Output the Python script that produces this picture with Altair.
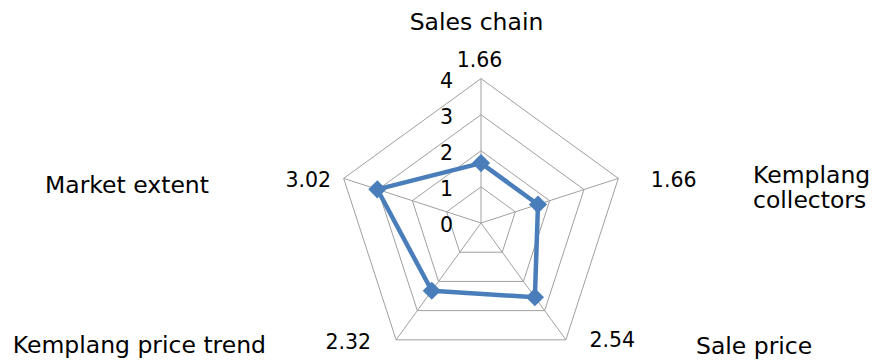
import altair as alt
import numpy as np
import pandas as pd

# ---------------- data ----------------
categories = ["Sales chain", "Kemplang collectors", "Sale price",
              "Kemplang price trend", "Market extent"]
category_text = ["Sales chain", "Kemplang\ncollectors", "Sale price",
                 "Kemplang price trend", "Market extent"]
values = [1.66, 1.66, 2.54, 2.32, 3.02]
value_labels = ["1.66", "1.66", "2.54", "2.32", "3.02"]
axis_ticks = [0, 1, 2, 3, 4]
axis_max = 4

# ---------------- layout / style ----------------
W, H = 876, 361
CX, CY, PX = 481, 223, 36.1          # centre in pixels, pixels per unit
x_dom = [-CX / PX, (W - CX) / PX]
y_dom = [-(H - CY) / PX, CY / PX]
GRID = "#a0a0a0"
BLUE = "#4a7ebb"
FONT = "DejaVu Sans"
NUM_SIZE = 20.5
CAT_SIZE = 23.5

# (align, dx, dy) relative to the outer vertex of each spoke
value_layout = [("center", -1.5, -11.6), ("left", 32.5, 8.3), ("left", 23.5, 7.5),
                ("right", -25, 9.5), ("right", -12.5, 8.9)]
cat_layout = [("center", -4.5, -48.6), ("left", 134.7, 4.9), ("left", 130.1, 14.5),
              ("left", -383.4, 13.5), ("left", -298.7, 14.9)]

n = len(categories)
ang = [np.pi / 2 - 2 * np.pi * i / n for i in range(n)]


def pol(r, i):
    return r * np.cos(ang[i]), r * np.sin(ang[i])


grid_rows = []
for lev in axis_ticks[1:]:
    for k in range(n + 1):
        x, y = pol(lev, k % n)
        grid_rows.append({"level": lev, "k": k, "x": x, "y": y})
grid_df = pd.DataFrame(grid_rows)

spoke_rows = []
for i in range(n):
    x2, y2 = pol(axis_max, i)
    spoke_rows.append({"x": 0.0, "y": 0.0, "x2": x2, "y2": y2})
spoke_df = pd.DataFrame(spoke_rows)

series_rows = []
for k in range(n + 1):
    i = k % n
    x, y = pol(values[i], i)
    series_rows.append({"k": k, "x": x, "y": y, "cat": categories[i], "value": values[i]})
series_df = pd.DataFrame(series_rows)
points_df = series_df.iloc[:n]

tick_df = pd.DataFrame({"t": axis_ticks, "x": [0.0] * len(axis_ticks),
                        "y": [float(t) for t in axis_ticks], "label": [str(t) for t in axis_ticks]})

lab_rows = []
for i in range(n):
    x, y = pol(axis_max, i)
    lab_rows.append({"i": i, "x": x, "y": y, "vlab": value_labels[i], "clab": category_text[i]})
lab_df = pd.DataFrame(lab_rows)

xs = alt.Scale(domain=x_dom, nice=False, zero=False)
ys = alt.Scale(domain=y_dom, nice=False, zero=False)
X = alt.X("x:Q", scale=xs, axis=None)
Y = alt.Y("y:Q", scale=ys, axis=None)

grid = alt.Chart(grid_df).mark_line(color=GRID, strokeWidth=1).encode(
    x=X, y=Y, detail="level:N", order="k:Q")
spokes = alt.Chart(spoke_df).mark_rule(color=GRID, strokeWidth=1).encode(
    x=X, y=Y, x2="x2:Q", y2="y2:Q")
line = alt.Chart(series_df).mark_line(color=BLUE, strokeWidth=4.5, strokeJoin="round").encode(
    x=X, y=Y, order="k:Q")
pts = alt.Chart(points_df).mark_point(shape="diamond", filled=True, color=BLUE,
                                      size=330, opacity=1).encode(x=X, y=Y)
ticks = alt.Chart(tick_df).mark_text(font=FONT, fontSize=NUM_SIZE, color="black",
                                     align="right", baseline="alphabetic",
                                     dx=-28, dy=9).encode(x=X, y=Y, text="label:N")

layers = [grid, spokes, line, pts, ticks]
for i in range(n):
    a, dx, dy = value_layout[i]
    layers.append(alt.Chart(lab_df).transform_filter(alt.datum.i == i).mark_text(
        font=FONT, fontSize=NUM_SIZE, color="black", align=a, baseline="alphabetic",
        dx=dx, dy=dy).encode(x=X, y=Y, text="vlab:N"))
    a, dx, dy = cat_layout[i]
    layers.append(alt.Chart(lab_df).transform_filter(alt.datum.i == i).mark_text(
        font=FONT, fontSize=CAT_SIZE, color="black", align=a, baseline="alphabetic",
        lineBreak="\n", lineHeight=24.6, dx=dx, dy=dy).encode(x=X, y=Y, text="clab:N"))

chart = alt.layer(*layers).properties(
    width=W, height=H, autosize="none", padding=0
).configure_view(stroke=None)

chart.save("out.html", embed_options={"renderer": "svg", "actions": False})
